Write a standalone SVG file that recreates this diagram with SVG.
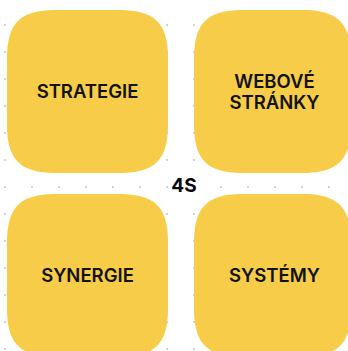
<svg xmlns="http://www.w3.org/2000/svg" width="348" height="351" viewBox="0 0 348 351">
  <defs>
    <pattern id="dot-grid" x="5" y="25" width="27" height="27" patternUnits="userSpaceOnUse">
      <circle cx="0" cy="0" r="1" fill="#c4c4c4"/>
      <circle cx="27" cy="0" r="1" fill="#c4c4c4"/>
      <circle cx="0" cy="27" r="1" fill="#c4c4c4"/>
      <circle cx="27" cy="27" r="1" fill="#c4c4c4"/>
    </pattern>
    <style>
      .tile { fill: #f6cc48; }
      .label { font-family: Inter, "Noto Sans", "Liberation Sans", sans-serif; font-weight: 600; font-size: 18.5px; fill: #121212; text-anchor: middle; }
      .title { font-family: Inter, "Noto Sans", "Liberation Sans", sans-serif; font-weight: 700; font-size: 19px; fill: #0a0a0a; text-anchor: middle; }
    </style>
  </defs>

  <!-- background with dot grid -->
  <rect x="0" y="0" width="348" height="351" fill="#ffffff"/>
  <rect x="0" y="0" width="348" height="351" fill="url(#dot-grid)"/>

  <!-- tiles use smooth (squircle-like) corners -->
  <g id="strategie">
    <path class="tile" d="M55,10 H120 C154.6,10 168,23.4 168,58 V125 C168,159.6 154.6,173 120,173 H55 C20.4,173 7,159.6 7,125 V58 C7,23.4 20.4,10 55,10 Z"/>
    <text class="label" x="87.5" y="98">STRATEGIE</text>
  </g>

  <g id="webove-stranky">
    <path class="tile" d="M242,10 H303 C337.6,10 351,23.4 351,58 V125 C351,159.6 337.6,173 303,173 H242 C207.4,173 194,159.6 194,125 V58 C194,23.4 207.4,10 242,10 Z"/>
    <text class="label" x="274.5" y="88">WEBOVÉ</text>
    <text class="label" x="274.5" y="109">STRÁNKY</text>
  </g>

  <g id="synergie">
    <path class="tile" d="M55,194 H120 C154.6,194 168,207.4 168,242 V309 C168,343.6 154.6,357 120,357 H55 C20.4,357 7,343.6 7,309 V242 C7,207.4 20.4,194 55,194 Z"/>
    <text class="label" x="87.5" y="282">SYNERGIE</text>
  </g>

  <g id="systemy">
    <path class="tile" d="M242,194 H303 C337.6,194 351,207.4 351,242 V309 C351,343.6 337.6,357 303,357 H242 C207.4,357 194,343.6 194,309 V242 C194,207.4 207.4,194 242,194 Z"/>
    <text class="label" x="274.5" y="282">SYSTÉMY</text>
  </g>

  <g id="center-title">
    <text class="title" x="184" y="191.5">4S</text>
  </g>

  <g id="connectors"/>
</svg>
